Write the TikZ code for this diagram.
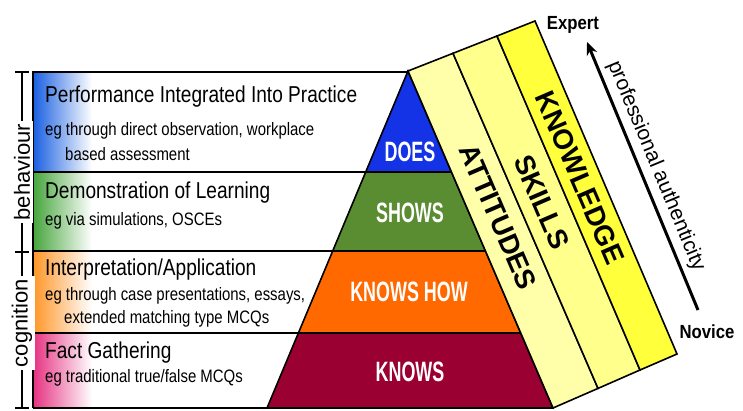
\documentclass[tikz,border=0pt]{standalone}
\usepackage{fontspec}
\setmainfont{Liberation Sans}
\newfontfamily\narrowfont{Liberation Sans}[FakeStretch=0.83]
\newfontfamily\heavyfont{Liberation Sans Bold}[FakeStretch=0.64]
\newfontfamily\tagfont{Liberation Sans Bold}[FakeStretch=0.88]
\usetikzlibrary{arrows.meta}
\definecolor{doesblue}{RGB}{20,50,230}
\definecolor{showsgreen}{RGB}{90,140,50}
\definecolor{howorange}{RGB}{255,105,0}
\definecolor{knowsred}{RGB}{155,0,50}
\definecolor{fadeblue}{RGB}{25,95,225}
\definecolor{fadegreen}{RGB}{70,165,60}
\definecolor{fadeorange}{RGB}{255,150,40}
\definecolor{fadepink}{RGB}{230,50,130}
\definecolor{strookA}{RGB}{255,255,170}
\definecolor{strookB}{RGB}{255,255,140}
\definecolor{strookC}{RGB}{255,255,60}
\begin{document}
\begin{tikzpicture}[x=1pt,y=-1pt]
\tikzset{titel/.style={anchor=base west,inner sep=0pt,font=\narrowfont\fontsize{23}{25}\selectfont}}
\tikzset{uitleg/.style={anchor=base west,inner sep=0pt,font=\narrowfont\fontsize{18}{20}\selectfont}}
\tikzset{niveau/.style={inner sep=0pt,text=white,font=\heavyfont\fontsize{28}{30}\selectfont}}
\tikzset{strook/.style={inner sep=0pt,rotate=-66.7,font=\bfseries\fontsize{28}{30}\selectfont}}
\tikzset{as/.style={fill=white,rotate=90,inner sep=3pt,font=\fontsize{22}{24}\selectfont}}
\useasboundingbox (0,0) rectangle (743,410);

  % kleurverloop links
  \shade[left color=fadeblue,right color=white] (33,72) rectangle (92,172);
  \shade[left color=fadegreen,right color=white] (33,172) rectangle (92,251);
  \shade[left color=fadeorange,right color=white] (33,251) rectangle (92,333);
  \shade[left color=fadepink,right color=white] (33,333) rectangle (92,408);

  \draw[line width=2pt] (33,408) -- (33,72) -- (408,72);
  \draw[line width=2pt] (33,172) -- (366,172);
  \draw[line width=2pt] (33,251) -- (333,251);
  \draw[line width=2pt] (33,333) -- (298,333);
  \draw[line width=2pt] (33,408) -- (267,408);

  % piramide
  \draw[line width=1.6pt,fill=doesblue] (408,71) -- (451.5,172) -- (365.7,172) -- cycle;
  \draw[line width=1.6pt,fill=showsgreen] (365.7,172) -- (451.5,172) -- (485.5,251) -- (332.7,251) -- cycle;
  \draw[line width=1.6pt,fill=howorange] (332.7,251) -- (485.5,251) -- (520.7,333) -- (298.4,333) -- cycle;
  \draw[line width=1.6pt,fill=knowsred] (298.4,333) -- (520.7,333) -- (553,408) -- (267,408) -- cycle;

  % band
  \draw[line width=1.6pt,fill=strookA] (408,71) -- (453,53.3) -- (598,388.4) -- (553,408) -- cycle;
  \draw[line width=1.6pt,fill=strookB] (453,53.3) -- (497,36) -- (640,370) -- (598,388.4) -- cycle;
  \draw[line width=1.6pt,fill=strookC] (497,36) -- (535,21) -- (677,354) -- (640,370) -- cycle;

  \draw (410,152) node[niveau](does){DOES};
  \draw (410,213) node[niveau](shows){SHOWS};
  \draw (409,292) node[niveau](knowshow){KNOWS HOW};
  \draw (410,372) node[niveau](knows){KNOWS};

  \draw (498,217) node[strook](attitudes){ATTITUDES};
  \draw (542,202) node[strook](skills){SKILLS};
  \draw (580,178) node[strook](knowledge){KNOWLEDGE};

  % teksten links
  \draw (45,102) node[titel](perf){Performance Integrated Into Practice};
  \draw (45,135) node[uitleg](perf1){eg through direct observation, workplace};
  \draw (65,160) node[uitleg](perf2){based assessment};
  \draw (45,198) node[titel](demo){Demonstration of Learning};
  \draw (45,225) node[uitleg](demo1){eg via simulations, OSCEs};
  \draw (45,275) node[titel](interp){Interpretation/Application};
  \draw (45,300) node[uitleg](interp1){eg through case presentations, essays,};
  \draw (64,323) node[uitleg](interp2){extended matching type MCQs};
  \draw (45,358) node[titel](fact){Fact Gathering};
  \draw (45,382) node[uitleg](fact1){eg traditional true/false MCQs};

  % as links
  \draw[line width=1.2pt] (22,72) -- (22,408);
  \foreach \y in {72,252,408}
    \draw[line width=1.2pt] (15,\y) -- (29,\y);
  \draw (22,172) node[as](behaviour){behaviour};
  \draw (22,323) node[as](cognition){cognition};

  % pijl
  \draw (573,25) node[font=\tagfont\fontsize{19}{21}\selectfont](expert){Expert};
  \draw (707,332) node[font=\tagfont\fontsize{19}{21}\selectfont](novice){Novice};
  \coordinate (novpunt) at (698,310);
  \coordinate (exppunt) at (587,42);
  \draw[-{Stealth[length=13pt,width=11pt]},line width=3pt] (novpunt) -- (exppunt);
  \draw (656,166) node[rotate=-67.5,inner sep=0pt,font=\fontsize{21}{23}\selectfont](auth){professional authenticity};

\end{tikzpicture}
\end{document}
